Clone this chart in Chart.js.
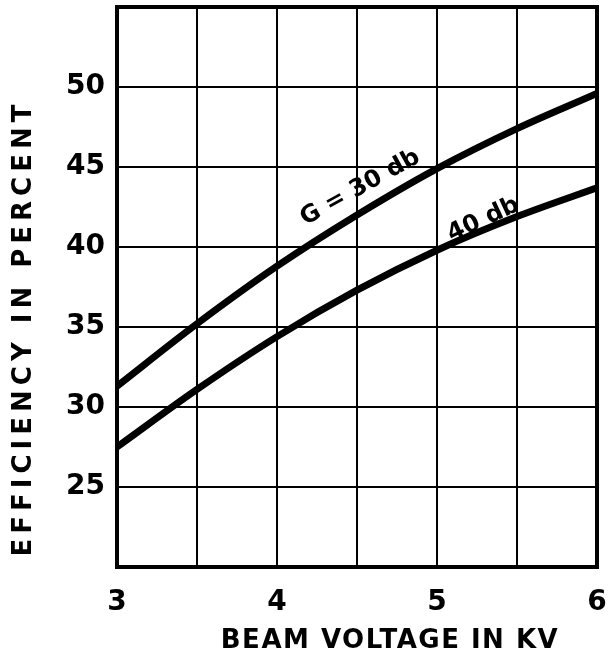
<!DOCTYPE html>
<html>
<head>
<meta charset="utf-8">
<style>
  html, body { margin: 0; padding: 0; background: #fff; }
  #wrap { width: 614px; height: 668px; }
</style>
<script src="https://cdn.jsdelivr.net/npm/chart.js@4"></script>
</head>
<body>
<div id="wrap"><canvas id="grafico" width="614" height="668"></canvas></div>
<script>
// tensão do feixe (kV)
const voltagens = [3, 3.5, 4, 4.5, 5, 5.5, 6];
// eficiência (%) para cada ganho
const efic30db = [31.3, 35.2, 38.8, 42.0, 44.9, 47.4, 49.6];
const efic40db = [27.5, 31.1, 34.4, 37.3, 39.8, 41.9, 43.7];
const ticksY = [25, 30, 35, 40, 45, 50];
const ticksX = [3, 4, 5, 6];

const fonte = '"DejaVu Sans", sans-serif';

// rótulos das curvas, em coordenadas de dados
const rotulos = [
    { texto: 'G = 30 db', x: 4.52, y: 43.7, angulo: -29 },
    { texto: '40 db', x: 5.29, y: 41.7, angulo: -25 }
];

const pluginDesenho = {
    id: 'desenho',
    afterDraw(chart) {
        const ctx = chart.ctx;
        const area = chart.chartArea;
        const sx = chart.scales.x, sy = chart.scales.y;

        // moldura grossa
        ctx.save();
        ctx.strokeStyle = '#000';
        ctx.lineWidth = 4;
        ctx.strokeRect(area.left, area.top, area.right - area.left, area.bottom - area.top);

        // rótulos das curvas
        ctx.fillStyle = '#000';
        ctx.font = 'bold 24px ' + fonte;
        ctx.textAlign = 'center';
        ctx.textBaseline = 'middle';
        rotulos.forEach(r => {
            ctx.save();
            ctx.translate(sx.getPixelForValue(r.x), sy.getPixelForValue(r.y));
            ctx.rotate(r.angulo * Math.PI / 180);
            ctx.fillText(r.texto, 0, 0);
            ctx.restore();
        });

        // títulos dos eixos
        ctx.font = 'bold 26px ' + fonte;
        ctx.letterSpacing = '1.5px';
        ctx.fillText('BEAM VOLTAGE IN KV', 390, 641);

        ctx.save();
        ctx.translate(24, 328);
        ctx.rotate(-Math.PI / 2);
        ctx.letterSpacing = '5px';
        ctx.fillText('EFFICIENCY IN PERCENT', 0, 0);
        ctx.restore();
        ctx.restore();
    }
};

const ctx = document.getElementById('grafico').getContext('2d');
const grafico = new Chart(ctx, {
    type: 'line',
    data: {
        labels: voltagens,
        datasets: [
            {
                label: 'G = 30 db',
                data: voltagens.map((v, i) => ({ x: v, y: efic30db[i] })),
                borderColor: '#000',
                borderWidth: 7,
                pointRadius: 0,
                cubicInterpolationMode: 'monotone',
                fill: false
            },
            {
                label: '40 db',
                data: voltagens.map((v, i) => ({ x: v, y: efic40db[i] })),
                borderColor: '#000',
                borderWidth: 7,
                pointRadius: 0,
                cubicInterpolationMode: 'monotone',
                fill: false
            }
        ]
    },
    options: {
        responsive: false,
        animation: false,
        layout: { padding: { top: 7, right: 17, left: 0, bottom: 0 } },
        plugins: {
            legend: { display: false },
            tooltip: { enabled: false }
        },
        scales: {
            x: {
                type: 'linear',
                min: 3,
                max: 6,
                afterFit(scale) {
                    scale.height = 101;
                    scale.paddingLeft = 0;
                    scale.paddingRight = 0;
                },
                afterBuildTicks(scale) {
                    scale.ticks = [3, 3.5, 4, 4.5, 5, 5.5, 6].map(v => ({ value: v }));
                },
                grid: { color: '#000', lineWidth: 2, drawTicks: false },
                border: { display: false },
                ticks: {
                    padding: 19,
                    color: '#000',
                    font: { family: fonte, size: 28, weight: 'bold' },
                    callback: v => ticksX.includes(v) ? String(v) : ''
                }
            },
            y: {
                min: 20,
                max: 55,
                afterFit(scale) {
                    scale.width = 117;
                    scale.paddingTop = 0;
                    scale.paddingBottom = 0;
                },
                afterBuildTicks(scale) {
                    scale.ticks = [20, 25, 30, 35, 40, 45, 50, 55].map(v => ({ value: v }));
                },
                grid: { color: '#000', lineWidth: 2, drawTicks: false },
                border: { display: false },
                ticks: {
                    padding: 12,
                    color: '#000',
                    font: { family: fonte, size: 28, weight: 'bold' },
                    callback: v => ticksY.includes(v) ? String(v) : ''
                }
            }
        }
    },
    plugins: [pluginDesenho]
});
</script>
</body>
</html>
